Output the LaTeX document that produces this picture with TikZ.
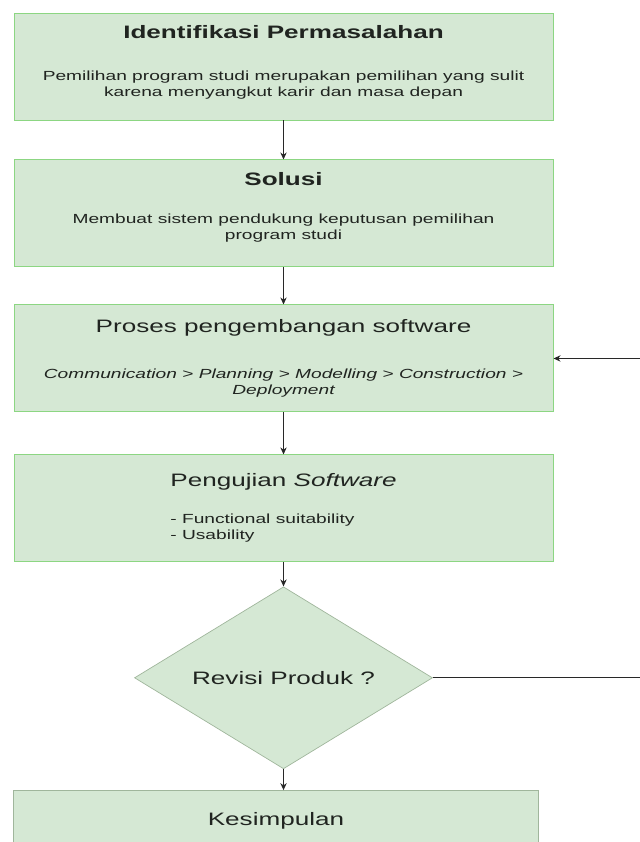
\documentclass[tikz,border=0pt]{standalone}
\usepackage{fontspec}
\setmainfont{Liberation Sans}[FakeStretch=1.45]
\usepackage{tikz}
\usetikzlibrary{shapes.geometric, arrows.meta, positioning, calc}
\definecolor{boxfill}{RGB}{213, 232, 212}
\definecolor{boxline}{RGB}{140, 214, 130}
\definecolor{dimline}{RGB}{160, 182, 156}
\definecolor{inktext}{RGB}{32, 36, 32}
\definecolor{darkgray}{RGB}{40, 40, 40}
\newcommand{\boxtitle}[1]{{\fontsize{12.8pt}{15pt}\selectfont #1}}

\begin{document}
\begin{tikzpicture}[
        node distance=1cm,
        box/.style={rectangle, draw=boxline, line width=0.7pt, fill=boxfill, minimum width=13.475cm, minimum height=2.675cm, align=center, text=inktext, font=\fontsize{9.4pt}{11.3pt}\selectfont},
        decision/.style={diamond, aspect=1.64, draw=dimline, line width=0.5pt, fill=boxfill, minimum width=7.45cm, minimum height=4.55cm, inner sep=0pt, text=inktext, font=\fontsize{12.8pt}{15pt}\selectfont},
        arrow/.style={-{Stealth[length=5pt, width=4.5pt]}, line width=0.8pt, draw=darkgray},
        line/.style={line width=0.8pt, draw=darkgray}
    ]
        \useasboundingbox (0,0) rectangle (16,-21.05);
        \clip (0,0) rectangle (16,-21.05);

        % Nodes
        \node[box, text depth=0.275cm] (ident) at (7.0875,-1.6625) {\boxtitle{\bfseries Identifikasi Permasalahan}\\[0.645cm] Pemilihan program studi merupakan pemilihan yang sulit\\ karena menyangkut karir dan masa depan};
        \node[box, below=0.975cm of ident, text depth=0.375cm] (solusi) {\boxtitle{\bfseries Solusi}\\[0.56cm] Membuat sistem pendukung keputusan pemilihan\\ program studi};
        \node[box, below=0.925cm of solusi, font=\fontsize{9.4pt}{11.3pt}\selectfont\itshape] (proses) {\boxtitle{\upshape Proses pengembangan software}\\[0.76cm] Communication > Planning > Modelling > Construction >\\ Deployment};
        \node[box, below=1.05cm of proses, align=left, text depth=0.1cm] (uji) {\boxtitle{Pengujian \textit{Software}}\\[0.525cm] - Functional suitability\\ - Usability};
        \node[decision, below=0.6cm of uji] (revisi) {Revisi Produk ?};
        \node[box, draw=dimline, below=0.525cm of revisi, xshift=-0.1875cm, minimum width=13.125cm, minimum height=1.5cm] (simpul) {\boxtitle{Kesimpulan}};
        \coordinate[right=6cm of revisi.east] (balik);

        % Connections
        \draw[arrow] (ident) -- (solusi);
        \draw[arrow] (solusi) -- (proses);
        \draw[arrow] (proses) -- (uji);
        \draw[arrow] (uji) -- (revisi);
        \draw[arrow] (revisi.south) -- (revisi.south |- simpul.north);
        \draw[line] (revisi.east) -- (balik);
        \draw[arrow] (balik) |- (proses.east);
    \end{tikzpicture}
\end{document}
